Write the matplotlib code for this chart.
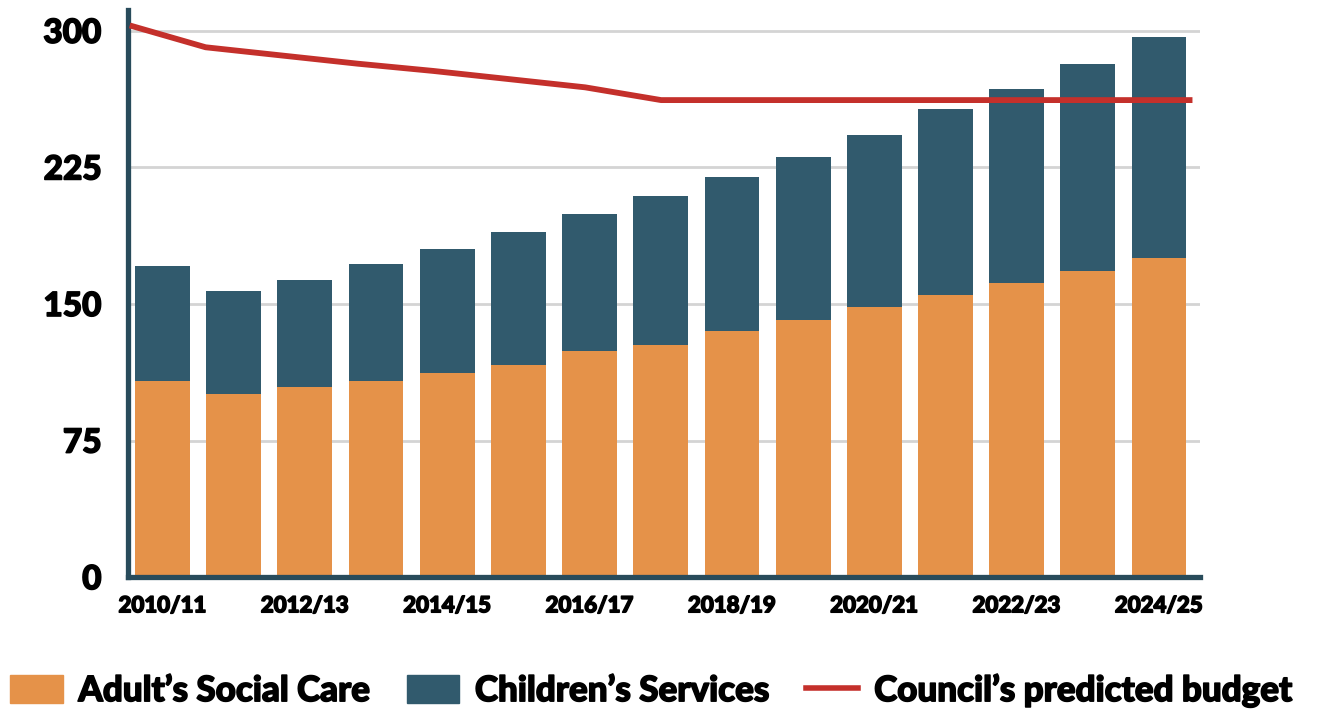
import numpy as np
import matplotlib.pyplot as plt
import matplotlib.patheffects as pe
from matplotlib.patches import Patch
from matplotlib.lines import Line2D

years = ["2010/11", "2011/12", "2012/13", "2013/14", "2014/15", "2015/16", "2016/17",
         "2017/18", "2018/19", "2019/20", "2020/21", "2021/22", "2022/23", "2023/24", "2024/25"]
adults = [108, 100.5, 104.5, 107.5, 112, 116.5, 124, 127.5, 135, 141, 148.5, 155, 161.5, 168, 175.5]
totals = [171, 157, 163, 172, 180, 189.5, 199.5, 209.5, 220, 231, 243, 257, 268, 282, 296.5]
children = [t - a for t, a in zip(totals, adults)]
budget = [303, 291, 286.5, 282, 278, 273.5, 269, 262, 262, 262, 262, 262, 262, 262, 262]

ORANGE = "#E59249"
BLUE = "#315A6D"
RED = "#C4302B"
AXIS = "#284B5B"

plt.rcParams["font.family"] = ["Lato", "DejaVu Sans"]
heavy = [pe.withStroke(linewidth=1.1, foreground="black")]

fig = plt.figure(figsize=(13.19, 7.10), dpi=100)
ax = fig.add_axes([0.097, 0.187, 0.813, 0.799])

x = np.arange(len(years))
ax.bar(x, adults, width=0.77, color=ORANGE, zorder=2)
ax.bar(x, children, bottom=adults, width=0.77, color=BLUE, zorder=2)

ax.set_xlim(-0.485, 14.58)
ax.set_ylim(0, 311.5)

# budget line runs edge to edge across the plot
lx = np.linspace(-0.46, 14.47, len(budget))
ax.plot(lx, budget, color=RED, lw=4.2, solid_capstyle="butt", zorder=3)

ax.set_yticks([0, 75, 150, 225, 300])
ax.set_yticklabels(["0", "75", "150", "225", "300"], fontsize=24, fontweight="black")
ax.set_xticks(x[::2])
ax.set_xticklabels(years[::2], fontsize=16, fontweight="black")
for t in ax.get_xticklabels() + ax.get_yticklabels():
    t.set_path_effects(heavy)
ax.tick_params(axis="both", length=0)
ax.tick_params(axis="y", pad=19)
ax.tick_params(axis="x", pad=13)

ax.yaxis.grid(True, color="#d4d4d4", lw=2, zorder=0)
ax.set_axisbelow(True)

for s in ["top", "right"]:
    ax.spines[s].set_visible(False)
for s in ["left", "bottom"]:
    ax.spines[s].set_color(AXIS)
    ax.spines[s].set_linewidth(3.8)

handles = [Patch(color=ORANGE, label="Adult\u2019s Social Care"),
           Patch(color=BLUE, label="Children\u2019s Services"),
           Line2D([], [], color=RED, lw=4, label="Council\u2019s predicted budget")]
leg = fig.legend(handles=handles, loc="lower left", bbox_to_anchor=(0.0076, 0.004), ncol=3,
                 frameon=False, prop={"size": 25.2, "weight": "black"},
                 handlelength=1.5, handleheight=0.82, handletextpad=0.45, columnspacing=1.05,
                 borderpad=0, borderaxespad=0)
for t in leg.get_texts():
    t.set_path_effects(heavy)

fig.savefig("out.png", dpi=100)
